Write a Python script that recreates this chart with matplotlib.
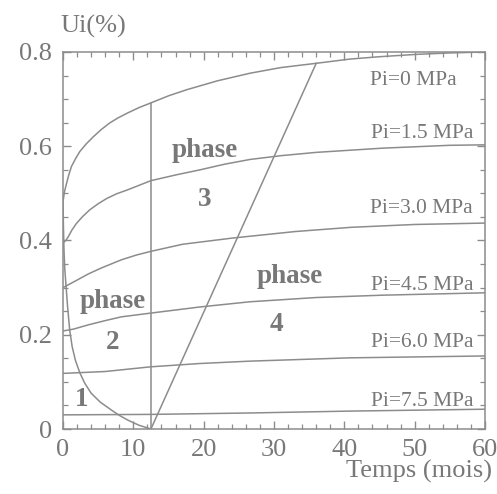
import matplotlib
matplotlib.use("Agg")
import matplotlib.pyplot as plt
from matplotlib.ticker import MultipleLocator, FuncFormatter

plt.rcParams["font.family"] = ["Liberation Serif", "DejaVu Serif"]

# Convergence curves Ui(%) versus time for each internal pressure Pi
t_pi00 = [0, 0.2, 0.5, 0.8, 1.2, 1.8, 2.4, 3.3, 4.3, 5.4, 6.6, 7.8, 9.1, 10.8, 12.5,
          15, 17.6, 22, 26.6, 31, 36, 40.8, 45, 50.3, 55, 60]
u_pi00 = [0.482, 0.503, 0.521, 0.538, 0.557, 0.574, 0.589, 0.605, 0.620, 0.635, 0.649,
          0.660, 0.670, 0.682, 0.692, 0.707, 0.720, 0.739, 0.755, 0.767, 0.776, 0.785,
          0.790, 0.795, 0.798, 0.800]

t_pi15 = [0, 0.4, 0.75, 1.3, 1.9, 2.8, 3.8, 5.0, 6.2, 7.6, 9.1, 10.8, 12.5, 16, 19.5,
          23, 26.6, 31, 36, 45.5, 55, 60]
u_pi15 = [0.395, 0.400, 0.408, 0.423, 0.436, 0.451, 0.465, 0.478, 0.489, 0.499, 0.507,
          0.517, 0.527, 0.539, 0.550, 0.562, 0.572, 0.580, 0.587, 0.596, 0.602, 0.603]

t_pi30 = [0, 1.0, 2.0, 3.6, 5.5, 8.3, 10.4, 12.5, 17, 24, 33, 41, 50, 60]
u_pi30 = [0.300, 0.308, 0.316, 0.329, 0.342, 0.359, 0.369, 0.377, 0.392, 0.405, 0.419,
          0.428, 0.434, 0.437]

t_pi45 = [0, 1.5, 3.6, 6.0, 8.3, 12.5, 19.5, 26.6, 36, 45.5, 60]
u_pi45 = [0.208, 0.212, 0.221, 0.230, 0.238, 0.246, 0.259, 0.270, 0.279, 0.284, 0.289]

t_pi60 = [0, 6, 12.5, 19.5, 26.6, 40.8, 60]
u_pi60 = [0.118, 0.122, 0.132, 0.139, 0.144, 0.151, 0.155]

t_pi75 = [0, 12.5, 26.6, 40.8, 60]
u_pi75 = [0.030, 0.031, 0.034, 0.038, 0.042]

curves = [
    ("Pi=0 MPa", t_pi00, u_pi00),
    ("Pi=1.5 MPa", t_pi15, u_pi15),
    ("Pi=3.0 MPa", t_pi30, u_pi30),
    ("Pi=4.5 MPa", t_pi45, u_pi45),
    ("Pi=6.0 MPa", t_pi60, u_pi60),
    ("Pi=7.5 MPa", t_pi75, u_pi75),
]

# Label placement (time, Ui) for each pressure label, right aligned
label_t = [56.0, 58.3, 58.3, 58.3, 58.3, 58.3]
label_u = [0.740, 0.628, 0.467, 0.304, 0.184, 0.058]

# Phase boundaries
t_b12 = [0, 0.06, 0.14, 0.25, 0.4, 0.65, 0.95, 1.3, 1.76, 2.4, 3.1, 4.0, 5.3, 6.9,
         8.0, 9.2, 10.8, 12.5]
u_b12 = [0.482, 0.43, 0.38, 0.34, 0.31, 0.26, 0.21, 0.175, 0.146, 0.119, 0.097, 0.076,
         0.057, 0.040, 0.029, 0.019, 0.008, 0.0]

t_b23 = [12.5, 12.5]
u_b23 = [0.0, 0.692]

t_b34 = [12.5, 36]
u_b34 = [0.0, 0.776]

# Phase annotations: (text, time, Ui)
phase_labels = [
    ("phase", 20.2, 0.590),
    ("3", 20.2, 0.486),
    ("phase", 7.1, 0.270),
    ("2", 7.0, 0.184),
    ("1", 2.7, 0.062),
    ("phase", 32.3, 0.323),
    ("4", 30.4, 0.222),
]

x_ticks = [0, 10, 20, 30, 40, 50, 60]
y_ticks = [0, 0.2, 0.4, 0.6, 0.8]

line_col = "#8c8c8c"
text_col = "#787878"

fig = plt.figure(figsize=(4.97, 4.94), dpi=100)
ax = fig.add_axes([63 / 497, 65 / 494, 422 / 497, 377 / 494])

for name, t, u in curves:
    ax.plot(t, u, color=line_col, lw=1.1, solid_capstyle="butt")

for t, u in [(t_b12, u_b12), (t_b23, u_b23), (t_b34, u_b34)]:
    ax.plot(t, u, color=line_col, lw=1.1)

for (name, t, u), lt, lu in zip(curves, label_t, label_u):
    ax.text(lt, lu, name, ha="right", va="center", fontsize=15.5, color=text_col)

for txt, t, u in phase_labels:
    ax.text(t, u, txt, ha="center", va="center", fontsize=19.5,
            fontweight="bold", color=text_col)

ax.set_xlim(0, 60)
ax.set_ylim(0, 0.8)
ax.set_xticks(x_ticks)
ax.set_yticks(y_ticks)
ax.xaxis.set_minor_locator(MultipleLocator(2))
ax.yaxis.set_minor_locator(MultipleLocator(0.05))
ax.xaxis.set_major_formatter(FuncFormatter(lambda v, p: f"{v:.0f}"))
ax.yaxis.set_major_formatter(FuncFormatter(lambda v, p: "0" if v == 0 else f"{v:.1f}"))

ax.tick_params(which="both", direction="in", top=True, right=True,
               color=line_col, labelcolor=text_col, labelsize=19)
ax.tick_params(axis="x", which="major", length=6, width=1, pad=7.5)
ax.tick_params(axis="y", which="major", length=6, width=1, pad=8)
ax.tick_params(which="minor", length=3.5, width=0.9)
for sp in ax.spines.values():
    sp.set_color(line_col)
    sp.set_linewidth(1.1)

fig.text(60 / 497, 1 - 26 / 494, "Ui(%)", ha="left", va="center",
         fontsize=19, color=text_col)
fig.text(492 / 497, 1 - 471 / 494, "Temps (mois)", ha="right", va="center",
         fontsize=19, color=text_col)

fig.savefig("out.png", dpi=100)
